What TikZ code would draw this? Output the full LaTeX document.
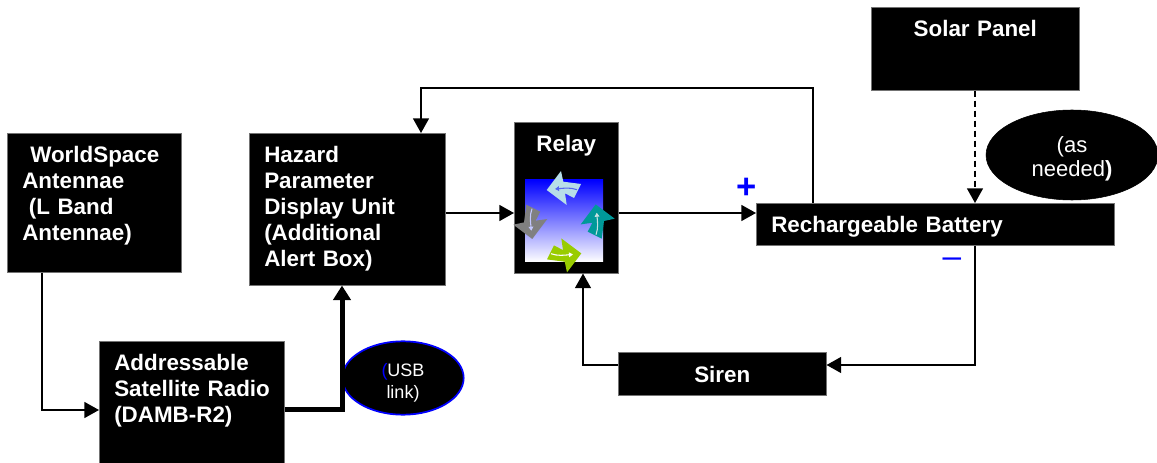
\documentclass[tikz,border=0pt]{standalone}
\usepackage{fontspec}
\setmainfont{Liberation Sans}
\usetikzlibrary{arrows.meta,shapes.geometric}
\definecolor{edgegray}{gray}{0.45}
\definecolor{relaylight}{HTML}{B7DEE8}
\definecolor{relaygray}{HTML}{808080}
\definecolor{relaygreen}{HTML}{99CC00}
\definecolor{relayteal}{HTML}{009999}
\definecolor{relayblue}{HTML}{5566EE}
\definecolor{relaypale}{HTML}{C4C8FF}
\definecolor{relaymist}{HTML}{C8E0E0}
\begin{document}
\begin{tikzpicture}[x=0.75pt,y=-0.75pt,
	main/.style 2 args = {draw=edgegray, line width=0.4pt, fill=black, text=white, anchor=north west, inner ysep=0pt, inner xsep=11.25pt, align=left, font=\fontsize{16.8}{19.5}\selectfont\bfseries, text width=#1*0.75pt-22.5pt, text height=21.75pt, text depth=#2*0.75pt-21.75pt},
	oval/.style = {draw=black, fill=black, ellipse, text=white, align=center, inner sep=0pt, font=\fontsize{16.5}{18}\selectfont},
	wire/.style = {line width=1.1pt, -{Triangle[length=11pt,width=12pt]}},
	sign/.style = {text=blue, inner sep=0pt}]
	\useasboundingbox (0,0) rectangle (1157,463);
	\node[main={174}{139}] (world) at (7,133) {\hspace*{6pt}WorldSpace\\Antennae\\\hspace*{5pt}(L Band\\Antennae)};
	\node[main={196}{152}] (hazard) at (249,133) {Hazard\\Parameter\\Display Unit\\(Additional\\Alert Box)};
	\node[main={185}{122}] (radio) at (99,341) {Addressable\\\mbox{Satellite Radio}\\(DAMB-R2)};
	\node[main={104}{151}, align=center] (relay) at (514,122) {Relay};
	\node[main={208}{83}, align=center] (solar) at (871,7) {Solar Panel};
	\node[main={358}{42}] (battery) at (756,203) {Rechargeable Battery};
	\node[main={208}{43}, align=center, text height=22.5pt, text depth=9.75pt] (siren) at (618,352) {Siren};
	\node[oval, minimum width=129pt, minimum height=67.5pt, text height=35.2pt] (needed) at (1072,155) {(as\\needed\textbf{)}};
	\node[oval, draw=blue, line width=1.3pt, minimum width=91pt, minimum height=55pt, text height=33.5pt, font=\fontsize{13.5}{16.5}\selectfont] (usb) at (403,378) {\textcolor{blue}{(}USB\\link)};
	\node[sign, font=\fontsize{26}{26}\selectfont\bfseries] (plus) at (747,188) {+};
	\node[sign, font=\fontsize{25}{25}\selectfont] (minus) at (952,263) {–};
	% relay picture
	\shade[top color=blue, bottom color=white] (525,180) rectangle (603,262);
	\foreach \ang/\col/\inner in {0/relaylight/relayblue, 90/relaygray/relaypale, 180/relaygreen/white, 270/relayteal/relaymist}
	{
		\begin{scope}[shift={(564,221.7)}, rotate=\ang]
			\fill[\col] (-17.3,-31.7) -- (-3,-50.7) -- (-0.7,-40) -- (17,-37.7) -- (10,-23.7) -- (1,-28.4) -- (2.7,-16.7) -- cycle;
			\draw[\inner, line width=0.8pt, -{Triangle[length=3pt,width=3.5pt]}] (13,-32) .. controls (6,-34.5) and (0,-33.5) .. (-9,-32.7);
		\end{scope}
	}
	% connectors
	\coordinate (worldbend) at (42,410);
	\coordinate (radiobend) at (342,409);
	\coordinate (hazardline) at (445,213);
	\coordinate (feedbend) at (813,88);
	\coordinate (hazardbend) at (421,88);
	\coordinate (solarline) at (975,90);
	\coordinate (sirenbend) at (975,365);
	\coordinate (relaybend) at (583,365);
	\draw[wire] (worldbend |- world.south) -- (worldbend) -- (worldbend -| radio.west);
	\draw[line width=3.75pt, -{Triangle[length=11pt,width=13pt]}] (radiobend -| radio.east) -- (radiobend) -- (radiobend |- hazard.south);
	\draw[wire] (hazardline -| hazard.east) -- (hazardline -| relay.west);
	\draw[wire] (hazardline -| relay.east) -- (hazardline -| battery.west);
	\draw[wire] (feedbend |- battery.north) -- (feedbend) -- (hazardbend) -- (hazardbend |- hazard.north);
	\draw[wire, dash pattern=on 4.5pt off 3pt] (solarline |- solar.south) -- (solarline |- battery.north);
	\draw[wire] (sirenbend |- battery.south) -- (sirenbend) -- (sirenbend -| siren.east);
	\draw[wire] (relaybend -| siren.west) -- (relaybend) -- (relaybend |- relay.south);
\end{tikzpicture}
\end{document}
